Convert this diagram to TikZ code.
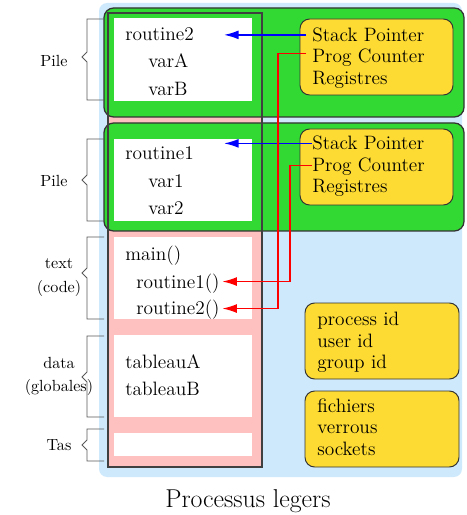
\documentclass[tikz,border=0pt]{standalone}
\usepackage{fontspec}
\usepackage{tikz}
\usetikzlibrary{arrows.meta}

\definecolor{fondbleu}{RGB}{206,233,252}
\definecolor{rose}{RGB}{255,192,192}
\definecolor{vert}{RGB}{51,217,51}
\definecolor{jaune}{RGB}{253,219,50}

\tikzset{
  pile/.style={draw=black!80, line width=0.8pt, fill=vert, rounded corners=6pt},
  info/.style={draw=black!80, line width=0.6pt, fill=jaune, rounded corners=6pt},
  ligne/.style={anchor=base west, inner sep=0pt, font=\fontsize{12}{14}\selectfont},
  marge/.style={anchor=base, inner sep=0pt, font=\fontsize{10}{12}\selectfont},
  ptr/.style={line width=1pt, -{Latex[length=9pt,width=5.5pt]}},
  accolade/.style={draw=black!65, line width=0.6pt}
}

\begin{document}
\begin{tikzpicture}[x=0.62pt, y=-0.62pt]
  \useasboundingbox (0,0) rectangle (466,515);

  % fond du processus
  \fill[fondbleu, rounded corners=5pt] (99,3) rectangle (462,477);
  \fill[rose] (108,13) rectangle (262,467);

  % piles des deux threads
  \draw[pile] (104,8) rectangle (464,117);
  \draw[pile] (104,123) rectangle (464,231);
  \draw[black!75, line width=0.7pt] (108,13) rectangle (262,467);

  % zones memoire
  \fill[white] (114,18) rectangle (252,101);
  \fill[white] (114,139) rectangle (252,221);
  \fill[white] (114,237) rectangle (252,319);
  \fill[white] (114,335) rectangle (252,417);
  \fill[white] (114,433) rectangle (252,456);

  % contextes
  \draw[info] (300,19) rectangle (453,95);
  \draw[info] (300,129) rectangle (453,205);
  \draw[info] (305,303) rectangle (459,379);
  \draw[info] (305,391) rectangle (459,467);

  \node[ligne] (rtB) at (125,41) {routine2};
  \node[ligne] (varA) at (148,68) {varA};
  \node[ligne] (varB) at (148,96) {varB};
  \node[ligne] (rtA) at (125,160) {routine1};
  \node[ligne] (varun) at (148,188) {var1};
  \node[ligne] (vardeux) at (148,215) {var2};

  \node[ligne] (main) at (125,261) {main()};
  \node[ligne] (callA) at (136,288) {routine1()};
  \node[ligne] (callB) at (136,315) {routine2()};
  \node[ligne] (tabA) at (125,368) {tableauA};
  \node[ligne] (tabB) at (125,395) {tableauB};

  \node[ligne] (spB) at (312,41.5) {Stack Pointer};
  \node[ligne] (pcB) at (312,63) {Prog Counter};
  \node[ligne] (regB) at (312,85) {Registres};
  \node[ligne] (spA) at (312,150) {Stack Pointer};
  \node[ligne] (pcA) at (312,172) {Prog Counter};
  \node[ligne] (regA) at (312,193) {Registres};

  \node[ligne] (pid) at (317,325) {process id};
  \node[ligne] (uid) at (317,347) {user id};
  \node[ligne] (gid) at (317,368) {group id};
  \node[ligne] (fich) at (317,412) {fichiers};
  \node[ligne] (verr) at (317,433) {verrous};
  \node[ligne] (sock) at (317,455) {sockets};

  % pointeurs de pile et compteurs ordinaux
  \coordinate (sommet) at (224,0);
  \draw[ptr, blue] ([xshift=-3.7pt]spB.west) -- (spB.west -| sommet);
  \draw[ptr, blue] (spA.west) -- (spA.west -| sommet);
  \draw[ptr, red] ([xshift=-3.7pt, yshift=3pt]pcB.west) -- ++(-28,0) |- ([xshift=1.5pt, yshift=1pt]callB.east);
  \draw[ptr, red] ([yshift=1pt]pcA.west) -- ++(-22,0) |- ([xshift=1.5pt, yshift=1pt]callA.east);

  % accolades
  \foreach \t/\m/\b in {19/57/100, 139/180/221, 237/273/319, 336/377/417, 429/445/461}
    \draw[accolade] (104,\t) -- (87,\t) -- (87,{\m-5}) -- (82,\m) -- (87,{\m+5}) -- (87,\b) -- (104,\b);

  \node[marge] (pileB) at (54,67) {Pile};
  \node[marge] (pileA) at (54,187) {Pile};
  \node[marge] (texte) at (59,269) {text};
  \node[marge] (code) at (59,292) {(code)};
  \node[marge] (data) at (59,368) {data};
  \node[marge] (glob) at (59,391) {(globales)};
  \node[marge] (tas) at (59,450) {Tas};

  \node[anchor=base, font=\fontsize{16}{19}\selectfont] (titre) at (248,507) {Processus legers};
\end{tikzpicture}
\end{document}
